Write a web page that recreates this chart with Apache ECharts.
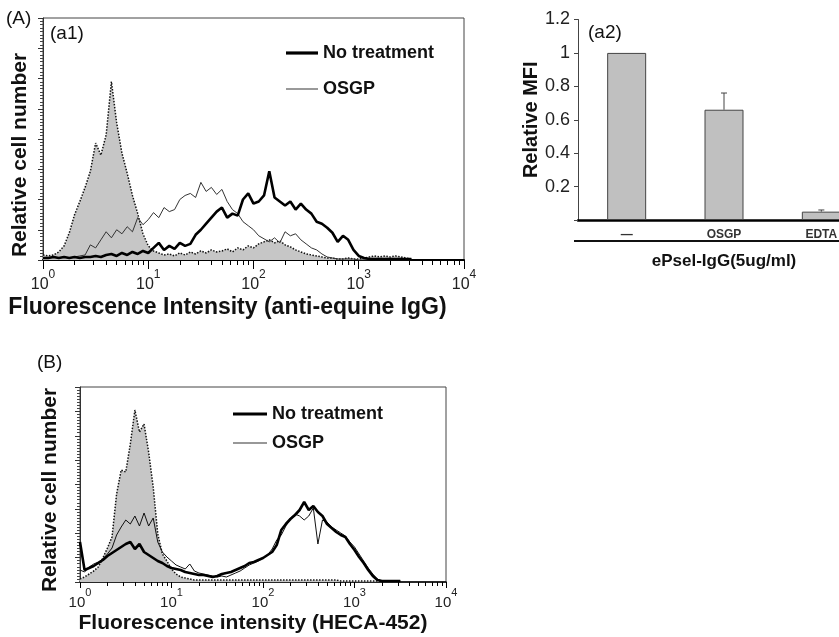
<!DOCTYPE html>
<html><head><meta charset="utf-8">
<script src="https://cdn.jsdelivr.net/npm/echarts@6/dist/echarts.min.js"></script>
<style>html,body{margin:0;padding:0;background:#fff}#c{width:839px;height:637px}</style>
</head><body><div id="c"></div>
<script>
// log10 of fluorescence intensity for each histogram bin
const binExp = [0,0.05,0.1,0.15,0.2,0.25,0.3,0.35,0.4,0.45,0.5,0.55,0.6,0.65,0.7,0.75,0.8,0.85,0.9,0.95,
  1,1.05,1.1,1.15,1.2,1.25,1.3,1.35,1.4,1.45,1.5,1.55,1.6,1.65,1.7,1.75,1.8,1.85,1.9,1.95,
  2,2.05,2.1,2.15,2.2,2.25,2.3,2.35,2.4,2.45,2.5,2.55,2.6,2.65,2.7,2.75,2.8,2.85,2.9,2.95,
  3,3.05,3.1,3.15,3.2,3.25,3.3,3.35,3.4,3.45,3.5];
// (a1) anti-equine IgG
const a1Control = [5,4,5,8,14,27,45,58,72,88,116,104,124,177,136,106,86,64,46,26,
  14,9,7,5,6,4,7,5,8,6,9,7,10,8,9,11,8,12,10,14,
  12,16,18,20,17,19,15,13,10,8,6,5,4,3,2,2,1,1,2,1,
  1,2,3,4,3,4,3,4,3,2,1];
const a1OSGP = [2,2,3,2,3,2,3,4,5,15,12,20,28,22,30,26,33,28,42,35,
  40,47,42,52,48,50,60,64,66,62,77,68,72,65,70,58,50,46,38,34,
  30,24,21,18,22,17,28,24,26,20,16,12,10,6,3,2,1,1,1,1,
  0,0,0,0,0,0,0,0,0,0,0];
const a1NoTreat = [2,2,3,2,3,2,3,2,3,3,4,3,5,6,4,7,5,8,6,9,
  7,12,17,10,14,11,17,14,16,25,30,36,42,48,52,42,46,44,60,66,
  56,58,64,88,62,58,54,58,50,56,50,46,38,36,32,27,18,24,20,10,
  4,2,1,1,1,1,1,1,1,1,1];
// (B) HECA-452
const bControl = [3,5,8,11,15,24,34,45,88,112,110,138,172,150,158,130,95,48,28,21,
  13,8,5,4,3,2,2,2,2,2,2,2,2,2,2,2,2,2,2,2,
  2,2,2,2,2,2,2,2,2,2,2,2,2,2,2,2,2,1,1,1,
  1,1,1,1,1,1,1,1,1,1,1];
const bOSGP = [12,10,15,18,20,23,28,34,47,55,62,58,66,56,69,56,64,40,30,25,
  21,17,15,13,18,11,9,8,7,6,5,6,5,7,9,11,14,17,19,21,
  24,27,33,42,47,56,64,68,66,62,66,74,38,62,60,55,52,49,46,40,
  35,28,21,14,8,3,1,1,1,1,1];
const bNoTreat = [40,12,14,16,19,22,26,29,32,35,38,40,33,38,30,27,24,21,19,16,
  14,13,12,10,9,8,7,7,6,5,6,8,9,10,12,14,16,19,20,22,
  24,27,30,37,52,58,63,67,72,80,72,76,70,66,58,54,50,47,45,38,
  32,25,19,12,6,2,1,1,1,1,1];
// (a2) relative MFI
const mfiCats = ['\u2014','OSGP','EDTA'];
const mfiMean = [1.0, 0.66, 0.05];
const mfiErr = [0, 0.10, 0.01];
const decadeTicks = [1,10,100,1000,10000];

const F = '"Liberation Sans", Arial, sans-serif';
const chart = echarts.init(document.getElementById('c'));
const pts = arr => binExp.map((e,i)=>[Math.pow(10,e), arr[i]]);
const minorVals = [];
[1,10,100,1000].forEach(d=>{for(let k=2;k<=9;k++) minorVals.push(d*k);});
const supLabel = v => '{b|10}{s|' + Math.round(Math.log10(v)) + '}';

function majorX(g, fs, sfs, margin, name, nfs, gap, shift, tickLen, lw){
  return {type:'log', logBase:10, gridIndex:g, min:1, max:10000, position:'bottom',
    name:name, nameLocation:'middle', nameGap:gap,
    nameTextStyle:{fontFamily:F, fontWeight:'bold', fontSize:nfs, color:'#111', padding:[0, shift, 0, 0]},
    axisLine:{onZero:false, lineStyle:{color:'#000', width:lw}},
    axisTick:{show:true, customValues:decadeTicks, length:tickLen, lineStyle:{color:'#000', width:1}},
    axisLabel:{customValues:decadeTicks, formatter:supLabel, margin:margin,
      rich:{b:{fontSize:fs, fontFamily:F, color:'#222', verticalAlign:'bottom', lineHeight:fs+8},
            s:{fontSize:sfs, fontFamily:F, color:'#222', verticalAlign:'top', lineHeight:sfs+1}}},
    splitLine:{show:false}};
}
function minorX(g, tickLen){
  return {type:'log', logBase:10, gridIndex:g, min:1, max:10000, position:'bottom',
    axisLine:{show:false, onZero:false},
    axisTick:{show:true, customValues:minorVals, length:tickLen, lineStyle:{color:'#000', width:1}},
    axisLabel:{show:false}, splitLine:{show:false}};
}
function histY(g, max, interval, minorSplit){
  return {type:'value', gridIndex:g, min:0, max:max, interval:interval, position:'left',
    axisLine:{show:true, lineStyle:{color:'#333', width:1}},
    axisTick:{show:true, length:5, lineStyle:{color:'#333'}},
    minorTick:{show:true, splitNumber:minorSplit, length:3, lineStyle:{color:'#444'}},
    axisLabel:{show:false}, splitLine:{show:false}};
}
function histSeries(xi, yi, ctrl, osgp, nt, osgpColor){
  return [
    {name:'Control', type:'line', xAxisIndex:xi, yAxisIndex:yi, data:pts(ctrl), symbol:'none', silent:true,
      lineStyle:{color:'#111', width:1.5, type:'dotted'}, areaStyle:{color:'#c6c6c6', opacity:1}, z:2},
    {name:'OSGP', type:'line', xAxisIndex:xi, yAxisIndex:yi, data:pts(osgp), symbol:'none',
      lineStyle:{color:osgpColor, width:1}, itemStyle:{color:osgpColor}, z:3},
    {name:'No treatment', type:'line', xAxisIndex:xi, yAxisIndex:yi, data:pts(nt), symbol:'none',
      lineStyle:{color:'#000', width:2.6}, itemStyle:{color:'#000'}, z:4}
  ];
}
const legendText = {fontFamily:F, fontWeight:'bold', fontSize:18, color:'#111'};
const legendData = w => [
  {name:'No treatment', icon:'path://M0,0H' + w + 'V3.2H0Z'},
  {name:'OSGP', icon:'path://M0,0H' + w + 'V1H0Z'}
];
const yTitle = (x, y) => ({type:'text', x:x, y:y, rotation:Math.PI/2,
  style:{text:'Relative cell number', fontFamily:F, fontWeight:'bold', fontSize:21, fill:'#111',
    align:'center', verticalAlign:'middle'}});

const option = {
  animation:false,
  backgroundColor:'#fff',
  grid:[
    {left:43, right:375, top:18, bottom:377, show:true, borderColor:'#444', borderWidth:1, outerBoundsMode:'none'},
    {left:80, right:393, top:387, bottom:55, show:true, borderColor:'#444', borderWidth:1, outerBoundsMode:'none'},
    {left:578, width:292, top:19.5, bottom:417, show:false, outerBoundsMode:'none', containLabel:false}
  ],
  legend:[
    {left:281, top:39, orient:'vertical', itemWidth:32, itemHeight:14, itemGap:18, selectedMode:false,
      symbolKeepAspect:true, data:legendData(32), textStyle:legendText},
    {left:228, top:400, orient:'vertical', itemWidth:34, itemHeight:14, itemGap:11, selectedMode:false,
      symbolKeepAspect:true, data:legendData(34), textStyle:legendText}
  ],
  xAxis:[
    majorX(0, 16, 12, 9, 'Fluorescence Intensity (anti-equine IgG)', 23, 36, 52, 9, 2),
    minorX(0, 5),
    majorX(1, 15, 11, 5, 'Fluorescence intensity (HECA-452)', 21, 31, 20, 6, 1.5),
    minorX(1, 4),
    {type:'category', gridIndex:2, data:mfiCats, position:'bottom',
      name:'ePsel-IgG(5ug/ml)', nameLocation:'middle', nameGap:33,
      nameTextStyle:{fontFamily:F, fontWeight:'bold', fontSize:17, color:'#111'},
      axisLine:{lineStyle:{color:'#000', width:2.5}}, axisTick:{show:false},
      axisLabel:{fontFamily:F, fontWeight:'bold', fontSize:12, color:'#333', margin:9}}
  ],
  yAxis:[
    histY(0, 240, 30, 9),
    histY(1, 195, 24.375, 8),
    {type:'value', gridIndex:2, min:0, max:1.2, interval:0.2,
      name:'Relative MFI', nameLocation:'middle', nameGap:36,
      nameTextStyle:{fontFamily:F, fontWeight:'bold', fontSize:20, color:'#111'},
      axisLine:{show:true, lineStyle:{color:'#444', width:1}},
      axisTick:{show:true, length:4, lineStyle:{color:'#444'}},
      axisLabel:{fontFamily:F, fontSize:18, color:'#222', margin:8,
        formatter:v => v === 0 ? '' : String(+v.toFixed(1))},
      splitLine:{show:false}}
  ],
  series:[
    ...histSeries(0, 0, a1Control, a1OSGP, a1NoTreat, '#333'),
    ...histSeries(2, 1, bControl, bOSGP, bNoTreat, '#111'),
    {name:'MFI', type:'bar', xAxisIndex:4, yAxisIndex:2, data:mfiMean, barWidth:39,
      itemStyle:{color:'#c0c0c0', borderColor:'#444', borderWidth:1}},
    {name:'MFI err', type:'custom', xAxisIndex:4, yAxisIndex:2,
      data:mfiCats.map((c,i)=>[i, mfiMean[i], mfiErr[i]]),
      encode:{x:0, y:1}, z:5,
      renderItem:(params, api)=>{
        const i = api.value(0), m = api.value(1), e = api.value(2);
        if (!e) return null;
        const p0 = api.coord([i, m]), p1 = api.coord([i, m + e]);
        const st = {stroke:'#444', lineWidth:1};
        return {type:'group', children:[
          {type:'line', shape:{x1:p0[0], y1:p0[1], x2:p1[0], y2:p1[1]}, style:st},
          {type:'line', shape:{x1:p1[0]-3, y1:p1[1], x2:p1[0]+3, y2:p1[1]}, style:st}
        ]};
      }}
  ],
  graphic:[
    {type:'text', left:6, top:9, style:{text:'(A)', fontFamily:F, fontSize:19, fill:'#111'}},
    {type:'text', left:50, top:24, style:{text:'(a1)', fontFamily:F, fontSize:19, fill:'#111'}},
    {type:'text', left:37, top:353, style:{text:'(B)', fontFamily:F, fontSize:19, fill:'#111'}},
    {type:'text', left:588, top:23, style:{text:'(a2)', fontFamily:F, fontSize:19, fill:'#111'}},
    yTitle(20, 155),
    yTitle(50, 490),
    {type:'line', shape:{x1:574, y1:241, x2:839, y2:241}, style:{stroke:'#111', lineWidth:2}}
  ]
};
chart.setOption(option);
</script></body></html>
